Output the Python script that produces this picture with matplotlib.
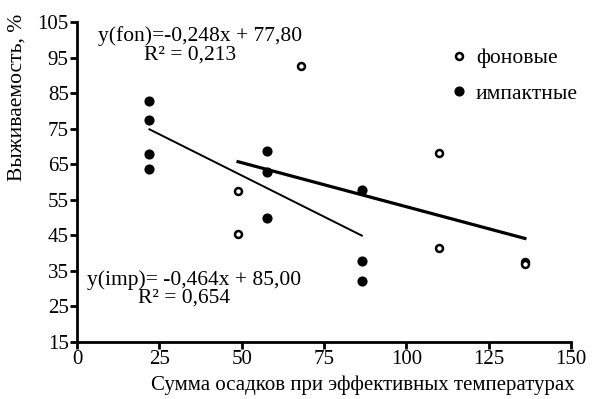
import numpy as np
import matplotlib
matplotlib.use("Agg")
import matplotlib.pyplot as plt

plt.rcParams['font.family'] = ['Liberation Serif', 'DejaVu Serif']

# background ("фоновые") points
fon_x = [48.9, 48.9, 68.0, 110.0, 110.0, 136.0, 136.0]
fon_y = [57.4, 45.2, 92.6, 68.2, 41.3, 37.3, 36.8]

# impact ("импактные") points
imp_x = [22.0, 22.0, 22.0, 22.0, 57.7, 57.7, 57.7, 86.5, 86.5, 86.5]
imp_y = [82.9, 77.3, 67.8, 63.6, 68.8, 62.9, 49.8, 57.6, 37.8, 32.2]

# regression lines: slope, intercept, x range
fon_fit = (-0.248, 77.80, 48.9, 136.0)
imp_fit = (-0.464, 85.00, 22.0, 86.5)

x_ticks = [0, 25, 50, 75, 100, 125, 150]
y_ticks = [15, 25, 35, 45, 55, 65, 75, 85, 95, 105]

W, H = 594, 399
fig = plt.figure(figsize=(W / 100, H / 100), dpi=100)
ax = fig.add_axes([77 / W, 1 - 341.7 / H, (571 - 77) / W, (341.7 - 22) / H])

ax.plot(fon_x, fon_y, 'o', ms=5, mfc='white', mec='black', mew=1.8, label='фоновые')
ax.plot(imp_x, imp_y, 'o', ms=6.3, mfc='black', mec='black', label='импактные')

k, b, x1, x2 = fon_fit
xs = np.array([x1, x2])
ax.plot(xs, k * xs + b, color='black', lw=2.3)
k, b, x1, x2 = imp_fit
xs = np.array([x1, x2])
ax.plot(xs, k * xs + b, color='black', lw=1.4)

ax.set_xlim(0, 150)
ax.set_ylim(15, 105)
ax.set_xticks(x_ticks)
ax.set_yticks(y_ticks)
ax.tick_params(labelsize=15, width=2, length=5, pad=1)
for s in ['top', 'right']:
    ax.spines[s].set_visible(False)
for s in ['left', 'bottom']:
    ax.spines[s].set_linewidth(2)

fs = 15.5
fig.text(363 / W, 1 - 385 / H, 'Сумма осадков при эффективных температурах', fontsize=15,
         ha='center', va='center')
fig.text(17 / W, 1 - 97 / H, 'Выживаемость, %', fontsize=fs, rotation=90,
         ha='center', va='center')

fig.text(200 / W, 1 - 36 / H, 'y(fon)=-0,248x + 77,80', fontsize=fs, ha='center', va='center')
fig.text(190 / W, 1 - 55 / H, 'R² = 0,213', fontsize=fs, ha='center', va='center')
fig.text(194 / W, 1 - 280 / H, 'y(imp)= -0,464x + 85,00', fontsize=fs, ha='center', va='center')
fig.text(184 / W, 1 - 298 / H, 'R² = 0,654', fontsize=fs, ha='center', va='center')

fig.legend(loc='upper left', bbox_to_anchor=(450 / W, 1 - 48 / H), frameon=False, fontsize=fs,
           handlelength=0.8, handletextpad=0.4, labelspacing=0.72, borderpad=0,
           borderaxespad=0)

fig.savefig('out.png', dpi=100)
